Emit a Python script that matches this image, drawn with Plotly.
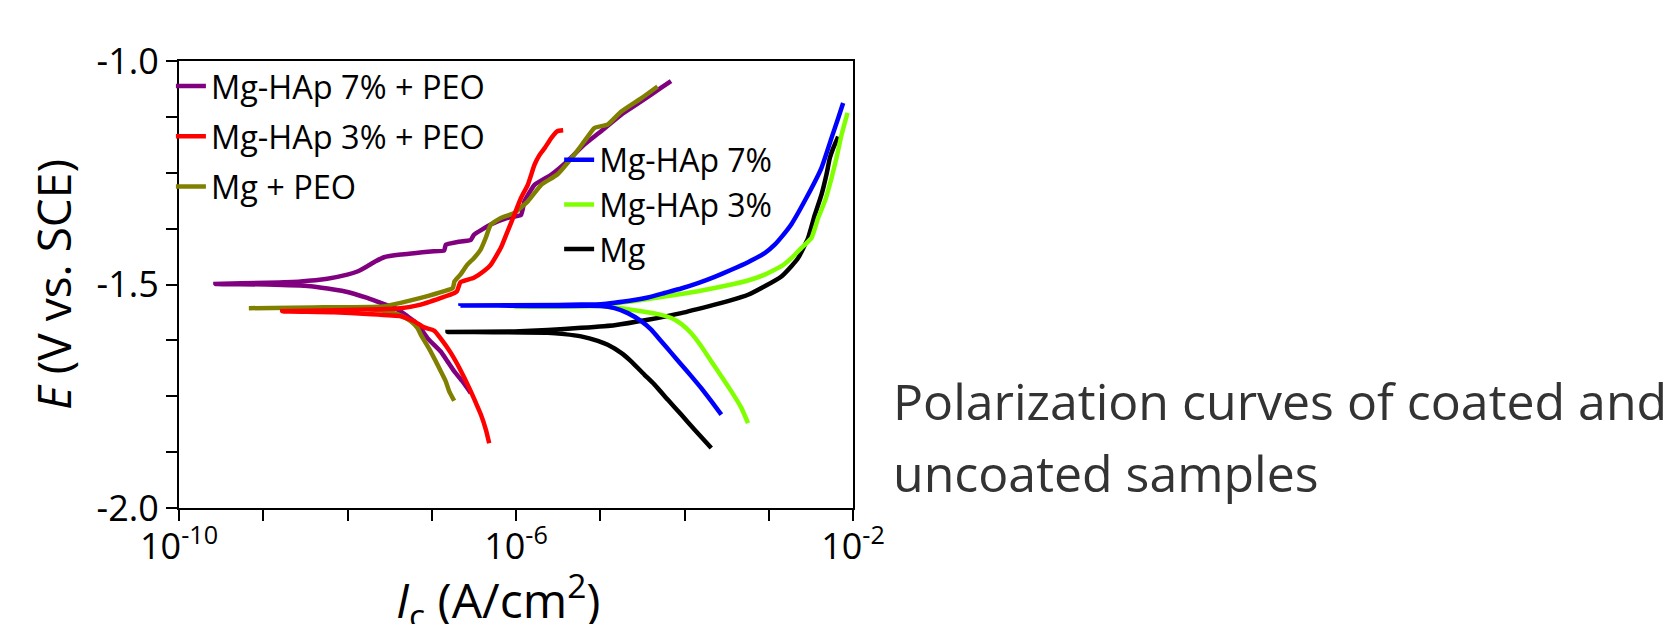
import numpy as np
import plotly.graph_objects as go

# ---- data: log10 of current density (A/cm2) and potential (V vs. SCE) ----
# each series goes from the cathodic end, through Ecorr, to the anodic end
hap7_peo_logi = [-6.536, -6.635, -6.734, -6.813, -6.893, -6.972, -7.051, -7.130, -7.210, -7.289,
                 -7.368, -7.487, -7.606, -7.765, -8.042, -8.438, -8.954, -9.568,
                 -8.954, -8.557, -8.240, -8.002, -7.883, -7.765, -7.666, -7.566, -7.368, -7.210,
                 -7.012, -6.853, -6.833, -6.694, -6.536, -6.50, -6.30, -6.10, -5.94, -5.90,
                 -5.78, -5.58, -5.39, -5.19, -4.99, -4.75, -4.51, -4.28, -4.16]
hap7_peo_e = [-1.743, -1.717, -1.694, -1.672, -1.650, -1.635, -1.620, -1.599, -1.582, -1.571,
              -1.560, -1.549, -1.541, -1.530, -1.515, -1.504, -1.500, -1.499,
              -1.496, -1.493, -1.487, -1.478, -1.471, -1.459, -1.448, -1.439, -1.433, -1.430,
              -1.426, -1.424, -1.411, -1.405, -1.400, -1.389, -1.366, -1.351, -1.344, -1.314,
              -1.277, -1.254, -1.224, -1.187, -1.157, -1.120, -1.090, -1.060, -1.045]

hap3_peo_logi = [-6.318, -6.357, -6.417, -6.476, -6.536, -6.615, -6.694, -6.774, -6.853, -6.972,
                 -7.091, -7.210, -7.368, -7.765, -8.161, -8.775,
                 -7.76, -7.37, -7.13, -6.89, -6.73, -6.70, -6.66, -6.50, -6.38, -6.30, -6.18,
                 -6.10, -6.02, -5.94, -5.86, -5.78, -5.72, -5.66, -5.58, -5.51, -5.44]
hap3_peo_e = [-1.855, -1.825, -1.791, -1.765, -1.739, -1.708, -1.679, -1.653, -1.631, -1.603,
              -1.596, -1.582, -1.571, -1.566, -1.562, -1.560,
              -1.556, -1.553, -1.545, -1.530, -1.519, -1.515, -1.495, -1.485, -1.470, -1.456, -1.418,
              -1.381, -1.344, -1.306, -1.277, -1.232, -1.210, -1.195, -1.172, -1.157, -1.155]

mg_peo_logi = [-6.734, -6.793, -6.833, -6.893, -6.952, -7.012, -7.071, -7.130, -7.170, -7.249,
               -7.329, -7.447, -7.566, -7.765, -8.161, -9.171,
               -8.16, -7.57, -7.37, -7.13, -6.85, -6.75, -6.73, -6.66, -6.58, -6.50, -6.42,
               -6.36, -6.30, -6.18, -6.02, -5.86, -5.70, -5.51, -5.31, -5.19, -5.07, -4.91,
               -4.75, -4.51, -4.32]
mg_peo_e = [-1.760, -1.739, -1.717, -1.694, -1.672, -1.650, -1.631, -1.612, -1.597, -1.582,
            -1.573, -1.564, -1.559, -1.554, -1.551, -1.553,
            -1.551, -1.549, -1.541, -1.530, -1.515, -1.508, -1.493, -1.478, -1.456, -1.441, -1.422,
            -1.396, -1.366, -1.351, -1.340, -1.314, -1.277, -1.254, -1.210, -1.180, -1.150, -1.142,
            -1.113, -1.083, -1.057]

hap7_logi = [-3.563, -3.682, -3.801, -3.920, -4.039, -4.157, -4.276, -4.395, -4.514, -4.673,
             -4.831, -4.990, -5.50, -6.66,
             -5.50, -5.23, -4.990, -4.831, -4.633, -4.435, -4.237, -4.039, -3.840, -3.642,
             -3.444, -3.246, -3.048, -2.929, -2.850, -2.731, -2.553, -2.374, -2.255, -2.176,
             -2.117]
hap7_e = [-1.791, -1.761, -1.732, -1.705, -1.679, -1.653, -1.627, -1.601, -1.582, -1.564,
          -1.553, -1.548, -1.548, -1.547,
          -1.546, -1.545, -1.544, -1.541, -1.536, -1.529, -1.519, -1.509, -1.497, -1.483,
          -1.467, -1.450, -1.430, -1.411, -1.394, -1.365, -1.306, -1.239, -1.172, -1.128,
          -1.094]

hap3_logi = [-3.246, -3.325, -3.444, -3.563, -3.682, -3.801, -3.920, -4.039, -4.157, -4.276,
             -4.514, -4.752, -4.990, -5.50, -6.02,
             -5.20, -4.990, -4.633, -4.237, -3.840, -3.444, -3.246, -3.048, -2.850, -2.731,
             -2.612, -2.493, -2.414, -2.334, -2.255, -2.196, -2.136, -2.065]
hap3_e = [-1.810, -1.776, -1.739, -1.705, -1.672, -1.638, -1.609, -1.588, -1.575, -1.568,
          -1.560, -1.553, -1.548, -1.549, -1.549,
          -1.548, -1.545, -1.538, -1.527, -1.515, -1.500, -1.491, -1.478, -1.459, -1.441,
          -1.418, -1.396, -1.351, -1.314, -1.262, -1.217, -1.165, -1.116]

mg_logi = [-3.682, -3.880, -4.039, -4.197, -4.356, -4.475, -4.633, -4.752, -4.911, -5.029,
           -5.228, -5.426, -5.624, -6.813,
           -6.020, -5.624, -5.228, -4.831, -4.435, -4.039, -3.642, -3.444, -3.246, -3.048,
           -2.850, -2.731, -2.652, -2.533, -2.453, -2.374, -2.315, -2.275, -2.235, -2.176]
mg_e = [-1.866, -1.825, -1.791, -1.758, -1.724, -1.702, -1.672, -1.653, -1.635, -1.626,
        -1.616, -1.611, -1.608, -1.606,
        -1.605, -1.602, -1.597, -1.591, -1.579, -1.564, -1.545, -1.535, -1.523, -1.504,
        -1.482, -1.459, -1.441, -1.396, -1.344, -1.299, -1.254, -1.217, -1.195, -1.169]

x_tick_exp = [-10, -9, -8, -7, -6, -5, -4, -3, -2]
x_tick_labels = ["10<sup>-10</sup>", "", "", "", "10<sup>-6</sup>", "", "", "", "10<sup>-2</sup>"]
y_tick_vals = [-2.0, -1.875, -1.75, -1.625, -1.5, -1.375, -1.25, -1.125, -1.0]
y_tick_labels = ["-2.0", "", "", "", "-1.5", "", "", "", "-1.0"]

caption_lines = ["Polarization curves of coated and", "uncoated samples"]

# (name, logI, E, color, legend, rank) -- drawing order
series = [
    ("Mg", mg_logi, mg_e, "#000000", "legend2", 3),
    ("Mg-HAp 3%", hap3_logi, hap3_e, "#80FF00", "legend2", 2),
    ("Mg-HAp 7%", hap7_logi, hap7_e, "#0000FF", "legend2", 1),
    ("Mg-HAp 7% + PEO", hap7_peo_logi, hap7_peo_e, "#800080", "legend", 1),
    ("Mg + PEO", mg_peo_logi, mg_peo_e, "#808000", "legend", 3),
    ("Mg-HAp 3% + PEO", hap3_peo_logi, hap3_peo_e, "#FF0000", "legend", 2),
]

FONT = "Open Sans"
fig = go.Figure()
for name, li, e, col, leg, rank in series:
    fig.add_trace(go.Scatter(
        x=np.power(10.0, np.array(li)), y=e, mode="lines", name=name,
        line=dict(color=col, width=4.5, shape="spline", smoothing=0.4),
        legend=leg, legendrank=rank, legendgroup=name,
    ))

annotations = [
    dict(text="<i>I</i><sub>c</sub> (A/cm<sup>2</sup>)", xref="paper", yref="paper",
         x=0.473, y=-0.117, xanchor="center", yanchor="top", showarrow=False,
         font=dict(size=48, family=FONT, color="black")),
]
for txt, yy in zip(caption_lines, [0.240, 0.079]):
    annotations.append(dict(
        text=txt, xref="paper", yref="paper", x=1.057, y=yy,
        xanchor="left", yanchor="middle", align="left", showarrow=False,
        font=dict(size=50, family=FONT, color="#333333"),
    ))

fig.update_layout(
    width=1672, height=624,
    margin=dict(l=171, r=827, t=53, b=124),
    paper_bgcolor="white", plot_bgcolor="white",
    font=dict(family=FONT, color="black"),
    legend=dict(x=-0.012, y=1.006, xanchor="left", yanchor="top",
                bgcolor="rgba(0,0,0,0)", font=dict(size=32.5, family=FONT),
                itemwidth=30, traceorder="grouped", tracegroupgap=5),
    legend2=dict(x=0.564, y=0.840, xanchor="left", yanchor="top",
                 bgcolor="rgba(0,0,0,0)", font=dict(size=32, family=FONT),
                 itemwidth=30, traceorder="grouped", tracegroupgap=0),
    annotations=annotations,
)

fig.update_xaxes(
    type="log", range=[-10, -2],
    tickvals=[10.0 ** k for k in x_tick_exp], ticktext=x_tick_labels,
    ticks="outside", ticklen=11, tickwidth=2, tickcolor="black",
    showline=True, linewidth=2, linecolor="black", mirror=True,
    showgrid=False, zeroline=False, ticklabelstandoff=-5,
    tickfont=dict(size=36, family=FONT, color="black"),
)
fig.update_yaxes(
    range=[-2.0, -1.0],
    tickvals=y_tick_vals, ticktext=y_tick_labels,
    ticks="outside", ticklen=11, tickwidth=2, tickcolor="black",
    showline=True, linewidth=2, linecolor="black", mirror=True,
    showgrid=False, zeroline=False,
    tickfont=dict(size=36, family=FONT, color="black"),
    title=dict(text="<i>E</i> (V vs. SCE)",
               font=dict(size=46, family=FONT, color="black"), standoff=10),
)

fig.write_html("out.html")
